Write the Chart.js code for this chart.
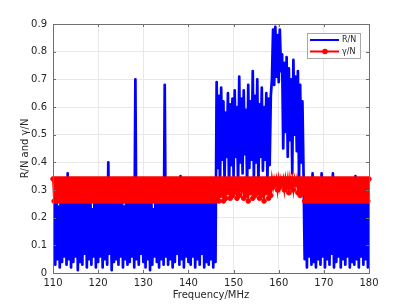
<!DOCTYPE html>
<html>
<head>
<meta charset="utf-8">
<title>R/N and gamma/N vs frequency</title>
<script src="https://cdn.jsdelivr.net/npm/chart.js@4.4.1/dist/chart.umd.min.js"></script>
<style>
  html, body { margin: 0; padding: 0; background: #fff; }
  #wrap { width: 409px; height: 307px; }
</style>
</head>
<body>
<div id="wrap"><canvas id="freqChart" width="409" height="307"></canvas></div>
<script>
// sweep: 110 MHz .. 180 MHz, one sample every 0.25 MHz
var freqStart = 110;
var freqStep = 0.25;

var xTickVals = [110, 120, 130, 140, 150, 160, 170, 180];
var yTickVals = [0, 0.1, 0.2, 0.3, 0.4, 0.5, 0.6, 0.7, 0.8, 0.9];

// R/N (blue)
var rN = [
  0.07,0.32,0.03,0.34,0.05,0.24,0.02,0.33,0.04,0.30,0.06,0.34,0.03,0.36,0.05,0.31,0.02,0.33,0.04,0.29,
  0.06,0.34,0.01,0.32,0.04,0.30,0.03,0.33,0.07,0.34,0.02,0.31,0.05,0.33,0.03,0.23,0.06,0.34,0.02,0.32,
  0.04,0.33,0.06,0.30,0.02,0.34,0.05,0.32,0.03,0.40,0.07,0.33,0.01,0.31,0.04,0.34,0.05,0.29,0.03,0.33,
  0.06,0.34,0.02,0.24,0.05,0.32,0.03,0.33,0.04,0.30,0.06,0.34,0.02,0.70,0.05,0.32,0.03,0.34,0.07,0.31,
  0.04,0.33,0.02,0.30,0.05,0.34,0.01,0.32,0.03,0.23,0.06,0.33,0.04,0.34,0.02,0.31,0.05,0.33,0.03,0.68,
  0.06,0.34,0.03,0.32,0.05,0.30,0.02,0.33,0.04,0.34,0.07,0.31,0.03,0.35,0.05,0.33,0.02,0.34,0.06,0.30,
  0.04,0.33,0.03,0.34,0.06,0.31,0.02,0.33,0.05,0.29,0.03,0.34,0.07,0.32,0.02,0.33,0.04,0.30,0.03,0.34,
  0.05,0.32,0.02,0.33,0.04,0.69,0.38,0.64,0.30,0.67,0.41,0.62,0.33,0.58,0.42,0.65,0.29,0.61,0.39,0.63,
  0.35,0.66,0.42,0.60,0.31,0.71,0.40,0.63,0.36,0.66,0.43,0.59,0.30,0.68,0.38,0.62,0.41,0.73,0.34,0.64,
  0.40,0.70,0.32,0.61,0.42,0.67,0.37,0.60,0.41,0.65,0.33,0.63,0.39,0.64,0.70,0.88,0.68,0.89,0.71,0.86,
  0.69,0.88,0.73,0.79,0.45,0.76,0.51,0.78,0.42,0.74,0.48,0.70,0.36,0.77,0.50,0.71,0.44,0.73,0.33,0.68,
  0.40,0.62,0.36,0.05,0.33,0.02,0.34,0.06,0.31,0.03,0.36,0.04,0.33,0.02,0.30,0.05,0.34,0.03,0.36,0.06,
  0.33,0.02,0.31,0.05,0.34,0.03,0.32,0.07,0.36,0.02,0.33,0.04,0.30,0.06,0.34,0.02,0.32,0.05,0.33,0.03,
  0.34,0.06,0.31,0.02,0.33,0.04,0.34,0.03,0.35,0.05,0.32,0.02,0.34,0.06,0.30,0.03,0.33,0.05,0.34,0.02,
  0.31
];

// gamma/N (red, with markers)
var gammaN = [
  0.34,0.26,0.34,0.26,0.34,0.26,0.34,0.26,0.34,0.26,0.34,0.26,0.34,0.26,0.34,0.26,0.34,0.26,0.34,0.26,
  0.34,0.26,0.34,0.26,0.34,0.26,0.34,0.26,0.34,0.26,0.34,0.26,0.34,0.26,0.34,0.26,0.34,0.26,0.34,0.26,
  0.34,0.26,0.34,0.26,0.34,0.26,0.34,0.26,0.34,0.26,0.34,0.26,0.34,0.26,0.34,0.26,0.34,0.26,0.34,0.26,
  0.34,0.26,0.34,0.26,0.34,0.26,0.34,0.26,0.34,0.26,0.34,0.26,0.34,0.26,0.34,0.26,0.34,0.26,0.34,0.26,
  0.34,0.26,0.34,0.26,0.34,0.26,0.34,0.26,0.34,0.26,0.34,0.26,0.34,0.26,0.34,0.26,0.34,0.26,0.34,0.26,
  0.34,0.26,0.34,0.26,0.34,0.26,0.34,0.26,0.34,0.26,0.34,0.26,0.34,0.26,0.34,0.26,0.34,0.26,0.34,0.26,
  0.34,0.26,0.34,0.26,0.34,0.26,0.34,0.26,0.34,0.26,0.34,0.26,0.34,0.26,0.34,0.26,0.34,0.26,0.34,0.26,
  0.34,0.26,0.34,0.26,0.34,0.27,0.34,0.26,0.34,0.28,0.34,0.26,0.34,0.27,0.34,0.29,0.34,0.27,0.34,0.28,
  0.34,0.29,0.34,0.27,0.34,0.28,0.34,0.30,0.34,0.27,0.34,0.28,0.34,0.26,0.34,0.29,0.34,0.27,0.34,0.28,
  0.34,0.29,0.34,0.27,0.34,0.28,0.34,0.26,0.34,0.29,0.34,0.27,0.34,0.28,0.34,0.31,0.34,0.32,0.34,0.30,
  0.34,0.31,0.34,0.32,0.34,0.30,0.34,0.31,0.34,0.29,0.34,0.31,0.34,0.30,0.34,0.32,0.34,0.29,0.34,0.28,
  0.34,0.29,0.34,0.26,0.34,0.26,0.34,0.26,0.34,0.26,0.34,0.26,0.34,0.26,0.34,0.26,0.34,0.26,0.34,0.26,
  0.34,0.26,0.34,0.26,0.34,0.26,0.34,0.26,0.34,0.26,0.34,0.26,0.34,0.26,0.34,0.26,0.34,0.26,0.34,0.26,
  0.34,0.26,0.34,0.26,0.34,0.26,0.34,0.26,0.34,0.26,0.34,0.26,0.34,0.26,0.34,0.26,0.34,0.26,0.34,0.26,
  0.34
];

var seriesLabels = ['R/N', 'γ/N'];
var seriesColors = ['#0000ff', '#ff0000'];

function toPoints(arr) {
  return arr.map(function(v, i){ return { x: freqStart + i * freqStep, y: v }; });
}

var textColor = '#262626';
var axisColor = '#6f6f6f';
var baseFont = { family: 'DejaVu Sans', size: 10 };

// matlab style box, inner ticks and legend
var matlabAxes = {
  id: 'matlabAxes',
  afterDraw: function(chart) {
    var ctx = chart.ctx;
    var a = chart.chartArea;
    var xs = chart.scales.x, ys = chart.scales.y;
    ctx.save();
    ctx.strokeStyle = axisColor;
    ctx.lineWidth = 1;
    ctx.strokeRect(a.left + 0.5, a.top + 0.5, a.right - a.left, a.bottom - a.top);
    ctx.beginPath();
    xTickVals.forEach(function(v){
      var px = Math.round(xs.getPixelForValue(v)) + 0.5;
      ctx.moveTo(px, a.bottom); ctx.lineTo(px, a.bottom - 3);
      ctx.moveTo(px, a.top); ctx.lineTo(px, a.top + 3);
    });
    yTickVals.forEach(function(v){
      var py = Math.round(ys.getPixelForValue(v)) + 0.5;
      ctx.moveTo(a.left, py); ctx.lineTo(a.left + 3, py);
      ctx.moveTo(a.right, py); ctx.lineTo(a.right - 3, py);
    });
    ctx.stroke();

    // legend
    var lx = a.right - 62, ly = a.top + 9, lw = 53, lh = 25;
    ctx.fillStyle = '#fff';
    ctx.fillRect(lx, ly, lw, lh);
    ctx.strokeStyle = '#a8a8a8';
    ctx.strokeRect(lx + 0.5, ly + 0.5, lw, lh);
    ctx.font = '8px "DejaVu Sans"';
    ctx.textBaseline = 'middle';
    ctx.textAlign = 'left';
    for (var i = 0; i < seriesLabels.length; i++) {
      var yy = ly + 7 + i * 11.5;
      ctx.strokeStyle = seriesColors[i];
      ctx.lineWidth = 2;
      ctx.beginPath();
      ctx.moveTo(lx + 3, yy); ctx.lineTo(lx + 32, yy);
      ctx.stroke();
      if (i == 1) {
        ctx.fillStyle = seriesColors[i];
        ctx.beginPath();
        ctx.arc(lx + 18, yy, 2.8, 0, Math.PI * 2);
        ctx.fill();
      }
      ctx.fillStyle = textColor;
      ctx.fillText(seriesLabels[i], lx + 35, yy);
    }
    ctx.restore();
  }
};

new Chart(document.getElementById('freqChart'), {
  type: 'line',
  data: {
    datasets: [{
      label: seriesLabels[0],
      data: toPoints(rN),
      borderColor: seriesColors[0],
      borderWidth: 2.7,
      borderJoinStyle: 'round',
      pointRadius: 0,
      tension: 0,
      order: 2
    }, {
      label: seriesLabels[1],
      data: toPoints(gammaN),
      borderColor: seriesColors[1],
      backgroundColor: seriesColors[1],
      borderWidth: 2,
      pointRadius: 2.3,
      pointBorderWidth: 1,
      pointBackgroundColor: seriesColors[1],
      pointBorderColor: seriesColors[1],
      tension: 0,
      clip: false,
      order: 1
    }]
  },
  options: {
    responsive: false,
    animation: false,
    devicePixelRatio: 1,
    layout: { padding: { top: 24, right: 40, bottom: 0, left: 0 } },
    plugins: {
      legend: { display: false },
      tooltip: { enabled: false }
    },
    scales: {
      x: {
        type: 'linear',
        min: 110,
        max: 180,
        afterBuildTicks: function(scale){ scale.ticks = xTickVals.map(function(v){ return { value: v }; }); },
        afterFit: function(scale){ scale.height = 34; },
        grid: { color: '#e8e8e8', drawTicks: false },
        border: { display: false },
        ticks: { color: textColor, font: baseFont, padding: 4, maxRotation: 0 },
        title: { display: true, text: 'Frequency/MHz', color: textColor, font: baseFont, padding: { top: 0, bottom: 6 } }
      },
      y: {
        min: 0,
        max: 0.9,
        afterBuildTicks: function(scale){ scale.ticks = yTickVals.map(function(v){ return { value: v }; }); },
        afterFit: function(scale){ scale.width = 53; },
        grid: { color: '#e8e8e8', drawTicks: false },
        border: { display: false },
        ticks: {
          color: textColor, font: baseFont, padding: 6,
          callback: function(v){ return v === 0 ? '0' : v.toFixed(1); }
        },
        title: { display: true, text: 'R/N and γ/N', color: textColor, font: baseFont, padding: { top: 19, bottom: 0 } }
      }
    }
  },
  plugins: [matlabAxes]
});
</script>
</body>
</html>
